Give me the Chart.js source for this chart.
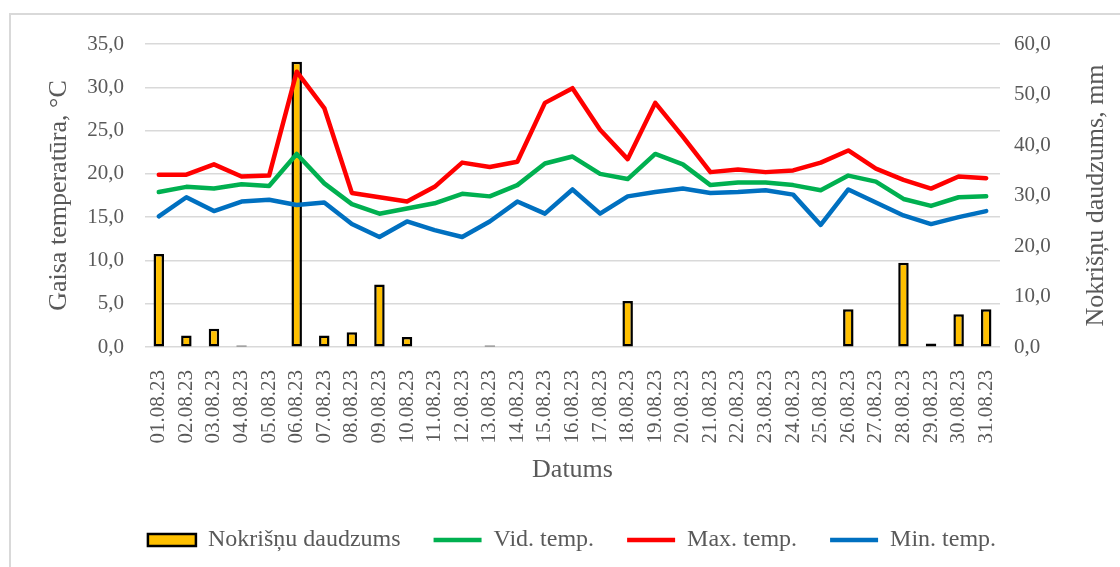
<!DOCTYPE html>
<html>
<head>
<meta charset="utf-8">
<title>Gaisa temperatūra un nokrišņi, 2023. gada augusts</title>
<script src="https://cdn.jsdelivr.net/npm/chart.js@4/dist/chart.umd.min.js"></script>
<style>
  html, body { margin: 0; padding: 0; background: #fff; }
  #wrap { position: relative; width: 1120px; height: 567px; }
  #frame {
    position: absolute; left: 9px; top: 13px; right: 0; bottom: 0;
    border-left: 2px solid #d9d9d9; border-top: 2px solid #d9d9d9;
    pointer-events: none;
  }
</style>
</head>
<body>
<div id="wrap">
  <canvas id="grafiks" width="1120" height="567"></canvas>
  <div id="frame"></div>
</div>
<script>
var datumi = ['01.08.23', '02.08.23', '03.08.23', '04.08.23', '05.08.23', '06.08.23', '07.08.23', '08.08.23',
  '09.08.23', '10.08.23', '11.08.23', '12.08.23', '13.08.23', '14.08.23', '15.08.23', '16.08.23',
  '17.08.23', '18.08.23', '19.08.23', '20.08.23', '21.08.23', '22.08.23', '23.08.23', '24.08.23',
  '25.08.23', '26.08.23', '27.08.23', '28.08.23', '29.08.23', '30.08.23', '31.08.23'];

// nokrišņi, mm (labā ass)
var nokrisni = [18.4, 2.3, 3.6, 0.3, 0, 56.5, 2.3, 2.9, 12.4, 2.0, 0, 0, 0.3, 0, 0, 0,
  0, 9.1, 0, 0, 0, 0, 0, 0, 0, 7.5, 0, 16.7, 0.7, 6.5, 7.5];

// temperatūras, °C (kreisā ass)
var vidTemp = [17.9, 18.5, 18.3, 18.8, 18.6, 22.3, 18.9, 16.5, 15.4, 16.0, 16.6, 17.7, 17.4, 18.7, 21.2, 22.0,
  20.0, 19.4, 22.3, 21.1, 18.7, 19.0, 19.0, 18.7, 18.1, 19.8, 19.1, 17.1, 16.3, 17.3, 17.4];
var maxTemp = [19.9, 19.9, 21.1, 19.7, 19.8, 31.8, 27.6, 17.8, 17.3, 16.8, 18.5, 21.3, 20.8, 21.4, 28.2, 29.9,
  25.1, 21.7, 28.2, 24.3, 20.2, 20.5, 20.2, 20.4, 21.3, 22.7, 20.6, 19.3, 18.3, 19.7, 19.5];
var minTemp = [15.1, 17.3, 15.7, 16.8, 17.0, 16.4, 16.7, 14.2, 12.7, 14.5, 13.5, 12.7, 14.5, 16.8, 15.4, 18.2,
  15.4, 17.4, 17.9, 18.3, 17.8, 17.9, 18.1, 17.6, 14.1, 18.2, 16.7, 15.2, 14.2, 15.0, 15.7];

var serif = "'Liberation Serif', 'Times New Roman', serif";
var peleks = '#595959';

function komats(v) {
  return Number(v).toFixed(1).replace('.', ',');
}

function linija(nosaukums, dati, krasa) {
  return {
    type: 'line',
    label: nosaukums,
    data: dati,
    yAxisID: 'y',
    borderColor: krasa,
    backgroundColor: krasa,
    borderWidth: 4.5,
    borderCapStyle: 'round',
    borderJoinStyle: 'round',
    pointRadius: 0,
    pointStyle: 'line',
    tension: 0,
    order: 0
  };
}

// labās ass nosaukums, lasāms no apakšas uz augšu
var labaisNosaukums = {
  id: 'labaisNosaukums',
  afterDraw: function (chart) {
    var ctx = chart.ctx;
    var area = chart.chartArea;
    ctx.save();
    ctx.translate(chart.scales.y1.right - 24, (area.top + area.bottom) / 2);
    ctx.rotate(-Math.PI / 2);
    ctx.font = '26px ' + serif;
    ctx.fillStyle = peleks;
    ctx.textAlign = 'center';
    ctx.textBaseline = 'middle';
    ctx.fillText('Nokrišņu daudzums, mm', 0, 0);
    ctx.restore();
  }
};

var ctx = document.getElementById('grafiks').getContext('2d');

var grafiks = new Chart(ctx, {
  data: {
    labels: datumi,
    datasets: [
      {
        type: 'bar',
        label: 'Nokrišņu daudzums',
        data: nokrisni,
        yAxisID: 'y1',
        backgroundColor: '#FFC000',
        borderColor: '#000000',
        borderWidth: 2.5,
        borderSkipped: false,
        barPercentage: 0.38,
        categoryPercentage: 1,
        pointStyle: 'rect',
        order: 1
      },
      linija('Vid. temp.', vidTemp, '#00B050'),
      linija('Max. temp.', maxTemp, '#FF0000'),
      linija('Min. temp.', minTemp, '#0070C0')
    ]
  },
  options: {
    responsive: false,
    animation: false,
    layout: { padding: { left: 24, top: 44, right: 0, bottom: 5 } },
    plugins: {
      tooltip: { enabled: false },
      legend: {
        position: 'bottom',
        labels: {
          usePointStyle: true,
          pointStyleWidth: 48,
          boxHeight: 12,
          padding: 33,
          color: peleks,
          font: { family: serif, size: 24 },
          sort: function (a, b) { return a.datasetIndex - b.datasetIndex; }
        }
      }
    },
    scales: {
      x: {
        grid: { display: false },
        border: { display: false },
        ticks: {
          color: peleks,
          font: { family: serif, size: 21 },
          minRotation: 90,
          maxRotation: 90,
          autoSkip: false,
          padding: 15
        },
        title: {
          display: true,
          text: 'Datums',
          color: peleks,
          font: { family: serif, size: 26 },
          padding: { top: 0, bottom: 9 }
        },
        afterFit: function (scale) { scale.height = 148; }
      },
      y: {
        position: 'left',
        min: 0,
        max: 35,
        grid: { color: '#d9d9d9', lineWidth: 1.5, drawTicks: false },
        border: { display: false },
        ticks: {
          stepSize: 5,
          color: peleks,
          font: { family: serif, size: 21 },
          padding: 21,
          callback: komats
        },
        title: {
          display: true,
          text: 'Gaisa temperatūra, °C',
          color: peleks,
          font: { family: serif, size: 26 },
          padding: { top: 20, bottom: 0 }
        },
        afterFit: function (scale) { scale.width = 121; }
      },
      y1: {
        position: 'right',
        min: 0,
        max: 60,
        grid: { drawOnChartArea: false, drawTicks: false },
        border: { display: false },
        ticks: {
          stepSize: 10,
          color: peleks,
          font: { family: serif, size: 21 },
          padding: 14,
          callback: komats
        },
        afterFit: function (scale) { scale.width = 120; }
      }
    }
  },
  plugins: [labaisNosaukums]
});
</script>
</body>
</html>
